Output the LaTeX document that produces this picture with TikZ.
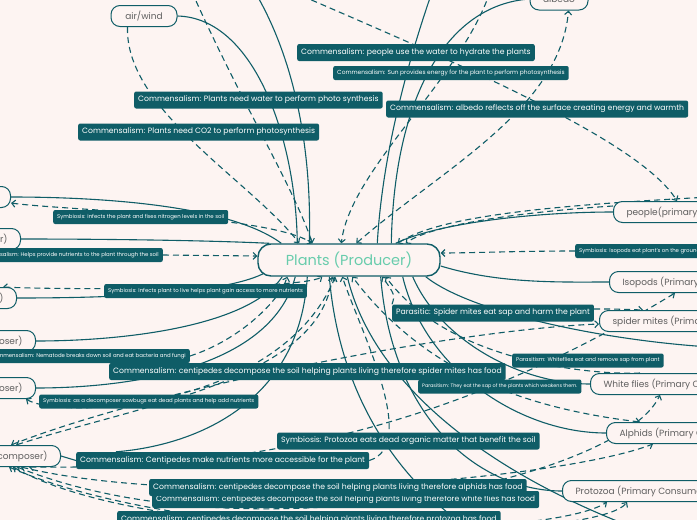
\documentclass[tikz,border=0pt]{standalone}
\usepackage{fontspec}
\setmainfont{Poppins}
\usepackage{xcolor}
\usetikzlibrary{arrows.meta}
\definecolor{qteal}{RGB}{15,93,103}
\definecolor{qback}{RGB}{253,244,242}
\definecolor{qmint}{RGB}{104,204,172}
\definecolor{qgrey}{RGB}{95,95,95}
\pgfdeclarelayer{back}
\pgfdeclarelayer{wires}
\pgfsetlayers{back,wires,main}

\tikzset{
  topic/.style={draw=qteal, line width=1pt, rounded corners=9pt, fill=qback, text=qgrey,
    font=\fontsize{9}{9}\selectfont, minimum height=21pt, inner xsep=13pt},
  rel/.style={fill=qteal, text=white, rounded corners=2pt, font=\fontsize{#1}{#1}\selectfont,
    inner xsep=4pt, inner ysep=0pt},
  relm/.style={rel=7.7, minimum height=17pt},
  rels/.style={rel=5.4, minimum height=14pt},
  link/.style={draw=qteal, line width=1.1pt},
  dlink/.style={link, dash pattern=on 6pt off 4pt, -{Straight Barb[length=3.5pt,width=7pt]}},
  dboth/.style={dlink, {Straight Barb[length=3.5pt,width=7pt]}-{Straight Barb[length=3.5pt,width=7pt]}},
}

\begin{document}
\begin{tikzpicture}[x=1pt,y=-1pt]
\useasboundingbox (0,0) rectangle (697,520);
\begin{pgfonlayer}{back}
\fill[qback] (0,0) rectangle (697,520);
\end{pgfonlayer}

% central topic
\node[draw=qteal, line width=1.4pt, rounded corners=13pt, fill=qback, minimum width=182pt,
  minimum height=32pt, text=qmint, font=\fontsize{14.5}{14.5}\selectfont] (main) at (349,260) {Plants (Producer)};

% topics
\node[topic, minimum width=66pt, inner xsep=4pt] (airwind) at (144,16) {air/wind};
\node[topic, minimum width=58pt, minimum height=22pt, inner xsep=4pt] (albedo) at (559,-1) {albedo};
\node[topic, anchor=west] (people) at (613,212) {people(primary consumer)};
\node[topic, anchor=west] (isopods) at (609,282) {Isopods (Primary Consumer)};
\node[topic, anchor=west] (spider) at (599,321) {spider mites (Primary Consumer)};
\node[topic, anchor=west] (whitefl) at (590,384) {White flies (Primary Consumer)};
\node[topic, anchor=west] (alphids) at (606,433) {Alphids (Primary Consumer)};
\node[topic, anchor=west] (protozoa) at (562,491) {Protozoa (Primary Consumer)};
\node[topic, anchor=east] (lnode1) at (11,197) {(Decomposer)};
\node[topic, anchor=east] (lnode2) at (21,239) {(Decomposer)};
\node[topic, anchor=east] (lnode3) at (17,298) {(Decomposer)};
\node[topic, anchor=east] (lnode4) at (36,341) {(Decomposer)};
\node[topic, anchor=east] (lnode5) at (36,388) {(Decomposer)};
\node[topic, anchor=east] (lnode6) at (61,456) {(Decomposer)};

% relationship labels
\node[relm, anchor=west] (l1) at (297,52.5) {Commensalism: people use the water to hydrate the plants};
\node[rel=5.9, minimum height=14pt, anchor=west] (l2) at (333,73) {Commensalism: Sun provides energy for the plant to perform photosynthesis};
\node[relm, anchor=west] (l3) at (134,100) {Commensalism: Plants need water to perform photo synthesis};
\node[relm, anchor=west] (l4) at (386,109) {Commensalism: albedo reflects off the surface creating energy and warmth};
\node[relm, anchor=west] (l5) at (78,132) {Commensalism: Plants need CO2 to perform photosynthesis};
\node[rels, anchor=west] (l6) at (53,217) {Symbiosis: infects the plant and fixes nitrogen levels in the soil};
\node[rels, anchor=east] (l7) at (163,255) {Commensalism: Helps provide nutrients to the plant through the soil};
\node[rels, anchor=west] (l8) at (575,251) {Symbiosis: Isopods eat plant's on the ground};
\node[rels, anchor=west] (l9) at (104,291) {Symbiosis: Infects plant to live helps plant gain access to more nutrients};
\node[relm, anchor=west] (l10) at (392,313) {Parasitic: Spider mites eat sap and harm the plant};
\node[rels, anchor=east] (l11) at (190,356) {Commensalism: Nematode breaks down soil and eat bacteria and fungi};
\node[relm, anchor=west] (l12) at (109,371.5) {Commensalism: centipedes decompose the soil helping plants living therefore spider mites has food};
\node[rels, anchor=west] (l13) at (512,360.5) {Parasitism: Whiteflies eat and remove sap from plant};
\node[rel=4.9, minimum height=14pt, anchor=west] (l14) at (418,386.5) {Parasitism: They eat the sap of the plants which weakens them.};
\node[rels, anchor=west] (l15) at (39,401.5) {Symbiosis: as a decomposer sowbugs eat dead plants and help add nutrients};
\node[relm, anchor=west] (l16) at (277,441) {Symbiosis: Protozoa eats dead organic matter that benefit the soil};
\node[relm, anchor=west] (l17) at (76,460.5) {Commensalism: Centipedes make nutrients more accessible for the plant};
\node[relm, anchor=west] (l19) at (152,499.5) {Commensalism: centipedes decompose the soil helping plants living therefore white flies has food};
\node[relm, anchor=west] (l18) at (149,487.5) {Commensalism: centipedes decompose the soil helping plants living therefore alphids has food};
\node[relm, anchor=west] (l20) at (117,519.5) {Commensalism: centipedes decompose the soil helping plants living therefore protozoa has food};

% free ends beyond the page
\coordinate (tA) at (255,-8);
\coordinate (tB) at (432,-8);
\coordinate (tC) at (710,-2);
\coordinate (tD) at (192,-8);
\coordinate (tE) at (293,-8);
\coordinate (tF) at (490,-8);
\coordinate (rA) at (710,347);
\coordinate (rB) at (710,197);
\coordinate (bA) at (470,530);
\coordinate (bB) at (640,530);

\begin{pgfonlayer}{wires}
% branches
\draw[link] (airwind.east) .. controls (255,18) and (296,140) .. ([xshift=40pt]main.north west);
\draw[link] (tA) .. controls (295,60) and (312,150) .. ([xshift=52pt]main.north west);
\draw[link] (tB) .. controls (405,70) and (382,160) .. ([xshift=120pt]main.north west);
\draw[link] (albedo.west) .. controls (445,5) and (394,100) .. ([xshift=134pt]main.north west);
\draw[link] (albedo.east) -- (tC);
\draw[link] ([xshift=-45pt]main.north east) .. controls (440,222) and (540,212) .. (people.west);
\draw[link] ([yshift=-6pt]main.east) .. controls (500,284) and (560,282) .. (isopods.west);
\draw[link] ([xshift=-15pt]main.south east) .. controls (470,312) and (600,340) .. (rA);
\draw[link] ([xshift=-28pt]main.south east) .. controls (440,340) and (520,384) .. (whitefl.west);
\draw[link] ([xshift=-38pt]main.south east) .. controls (425,370) and (520,433) .. (alphids.west);
\draw[link] ([xshift=-60pt]main.south east) .. controls (392,420) and (480,491) .. (protozoa.west);
\draw[link] ([xshift=72pt]main.south west) .. controls (340,400) and (400,480) .. (bA);
\draw[link] ([xshift=90pt]main.south west) .. controls (372,380) and (480,470) .. (bB);
\draw[link] ([xshift=24pt]main.north west) .. controls (230,205) and (100,197) .. (lnode1.east);
\draw[link] ([xshift=12pt]main.north west) .. controls (200,240) and (90,239) .. (lnode2.east);
\draw[link] ([xshift=6pt,yshift=3pt]main.south west) .. controls (220,295) and (100,298) .. (lnode3.east);
\draw[link] ([xshift=25pt]main.south west) .. controls (250,325) and (130,341) .. (lnode4.east);
\draw[link] ([xshift=38pt]main.south west) .. controls (270,372) and (120,388) .. (lnode5.east);
\draw[link] ([xshift=50pt]main.south west) .. controls (300,400) and (200,445) .. ([xshift=40pt]l17.north west);
\draw[link] (lnode6.east) -- (l17.west);

% relationships
\draw[dlink] (tD) .. controls (240,100) and (295,190) .. ([xshift=55pt]main.north west);
\draw[dlink] ([xshift=17pt]airwind.south west) .. controls (125,110) and (250,180) .. ([xshift=42pt]main.north west);
\draw[dlink] (tE) .. controls (450,60) and (640,140) .. ([xshift=64pt]people.north west);
\draw[dboth] ([xshift=99pt]main.north west) .. controls (440,170) and (560,110) .. ([xshift=39pt]albedo.south west);
\draw[dlink] (tF) .. controls (460,80) and (350,170) .. ([xshift=84pt]main.north west);
\draw[dlink] ([yshift=6pt]people.west) .. controls (520,212) and (430,225) .. ([xshift=-35pt]main.north east);
\draw[dlink] (rB) .. controls (560,205) and (440,215) .. ([xshift=-43pt]main.north east);
\draw[dlink] (l8.west) .. controls (520,251) and (470,253) .. ([yshift=7pt]main.east);
\draw[dboth] ([yshift=-6pt]lnode1.east) .. controls (60,210) and (270,215) .. ([xshift=55pt]main.north west);
\draw[dlink] (l7.east) -- ([yshift=4pt]main.west);
\draw[dboth] ([xshift=-14pt]lnode3.north east) .. controls (60,290) and (300,290) .. ([xshift=65pt]main.south west);
\draw[dlink] ([yshift=4pt]l10.east) .. controls (615,309) .. ([xshift=44pt]spider.north west);
\draw[dlink] (l10.north west) .. controls (395,295) .. ([xshift=125pt]main.south west);
\draw[dboth] ([xshift=-50pt]lnode6.north east) .. controls (150,390) and (450,330) .. ([yshift=-3pt]spider.west);
\draw[dboth] ([xshift=-45pt]lnode6.north east) .. controls (140,405) and (320,380) .. ([xshift=75pt]main.south west);
\draw[dboth] ([xshift=-10pt]lnode5.south east) .. controls (60,420) and (280,410) .. ([xshift=78pt]main.south west);
\draw[dlink] (l11.east) .. controls (240,340) and (280,300) .. ([xshift=30pt]main.south west);
\draw[dboth] ([xshift=-32pt]lnode6.south east) .. controls (250,470) and (450,430) .. ([xshift=66pt]isopods.south west);
\draw[dlink] (l17.east) .. controls (420,445) and (360,330) .. ([xshift=85pt]main.south west);
\draw[dboth] ([xshift=-40pt]lnode6.south east) .. controls (200,510) and (560,480) .. ([xshift=47pt]alphids.south west);
\draw[dboth] ([xshift=-44pt]lnode6.south east) .. controls (250,560) and (620,480) .. ([xshift=70pt]whitefl.south west);
\draw[dboth] ([xshift=-48pt]lnode6.south east) .. controls (150,545) and (550,540) .. ([xshift=45pt]protozoa.south west);
\draw[dboth] ([xshift=-52pt]lnode6.south east) .. controls (200,550) and (600,540) .. ([xshift=65pt]protozoa.south west);
\draw[dlink] ([xshift=50pt]whitefl.north west) .. controls (600,375) and (450,365) .. ([xshift=-55pt]main.south east);
\draw[dboth] ([xshift=34pt]alphids.north west) .. controls (540,410) and (430,380) .. ([xshift=95pt]main.south west);
\end{pgfonlayer}
\end{tikzpicture}
\end{document}
